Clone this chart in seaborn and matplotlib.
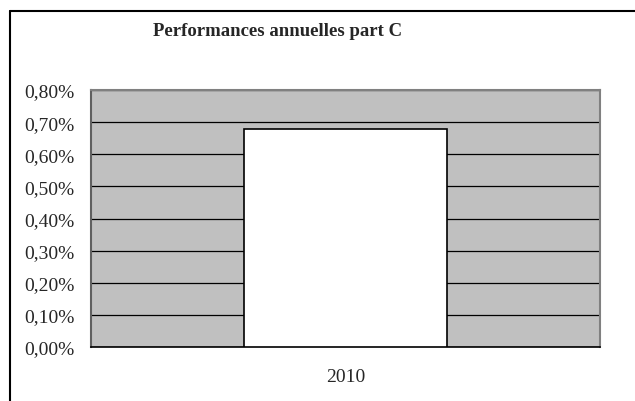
import matplotlib
matplotlib.use("Agg")
import matplotlib.pyplot as plt
import seaborn as sns
import pandas as pd
from matplotlib.lines import Line2D
from matplotlib.ticker import FuncFormatter, FixedLocator

# --- data ---
years = ["2010"]
perf = [0.0068]
yticks = [0.0, 0.001, 0.002, 0.003, 0.004, 0.005, 0.006, 0.007, 0.008]

df = pd.DataFrame({"annee": years, "perf": perf})

sns.set_style("white")
plt.rcParams["font.family"] = ["Liberation Serif", "DejaVu Serif"]

fig = plt.figure(figsize=(6.35, 4.02), dpi=100)
ax = fig.add_axes([91 / 635, 1 - 348 / 402, 509 / 635, 257 / 402])

sns.barplot(data=df, x="annee", y="perf", ax=ax, color="white", width=0.4,
            edgecolor="black", linewidth=1.2, saturation=1, zorder=3)

ax.set_facecolor("#C0C0C0")
ax.set_xlim(-0.5, 0.5)
ax.set_ylim(0, 0.008)
ax.yaxis.set_major_locator(FixedLocator(yticks))
ax.yaxis.set_major_formatter(FuncFormatter(lambda v, p: f"{v * 100:.2f}%".replace(".", ",")))
ax.grid(axis="y", color="black", linewidth=0.9, zorder=1)
ax.set_axisbelow(True)

# x: ticks at category bounds, label centered
ax.set_xticks([-0.5, 0.5])
ax.set_xticklabels(["", ""])
ax.set_xticks([0], minor=True)
ax.set_xticklabels(years, minor=True)
ax.tick_params(axis="x", which="major", length=6, width=1, color="black", direction="out")
ax.tick_params(axis="x", which="minor", length=0, labelsize=14, pad=15)
ax.tick_params(axis="y", length=6, width=1, color="black", direction="out", labelsize=14, pad=6)
ax.set_xlabel("")
ax.set_ylabel("")

for side in ["top", "right", "left"]:
    ax.spines[side].set_visible(True)
    ax.spines[side].set_color("#808080")
    ax.spines[side].set_linewidth(1.5)
ax.spines["left"].set_color("#606060")
ax.spines["bottom"].set_color("black")
ax.spines["bottom"].set_linewidth(1.2)

fig.text(278 / 635, 1 - 32 / 402, "Performances annuelles part C", ha="center", va="center",
         fontsize=13.5, fontweight="bold")

# outer frame (top and left edges visible)
fig.add_artist(Line2D([10 / 635, 1.0], [1 - 12 / 402] * 2, color="black", lw=1.5))
fig.add_artist(Line2D([10 / 635] * 2, [0.0, 1 - 12 / 402], color="black", lw=1.5))

fig.savefig("out.png", dpi=100)
